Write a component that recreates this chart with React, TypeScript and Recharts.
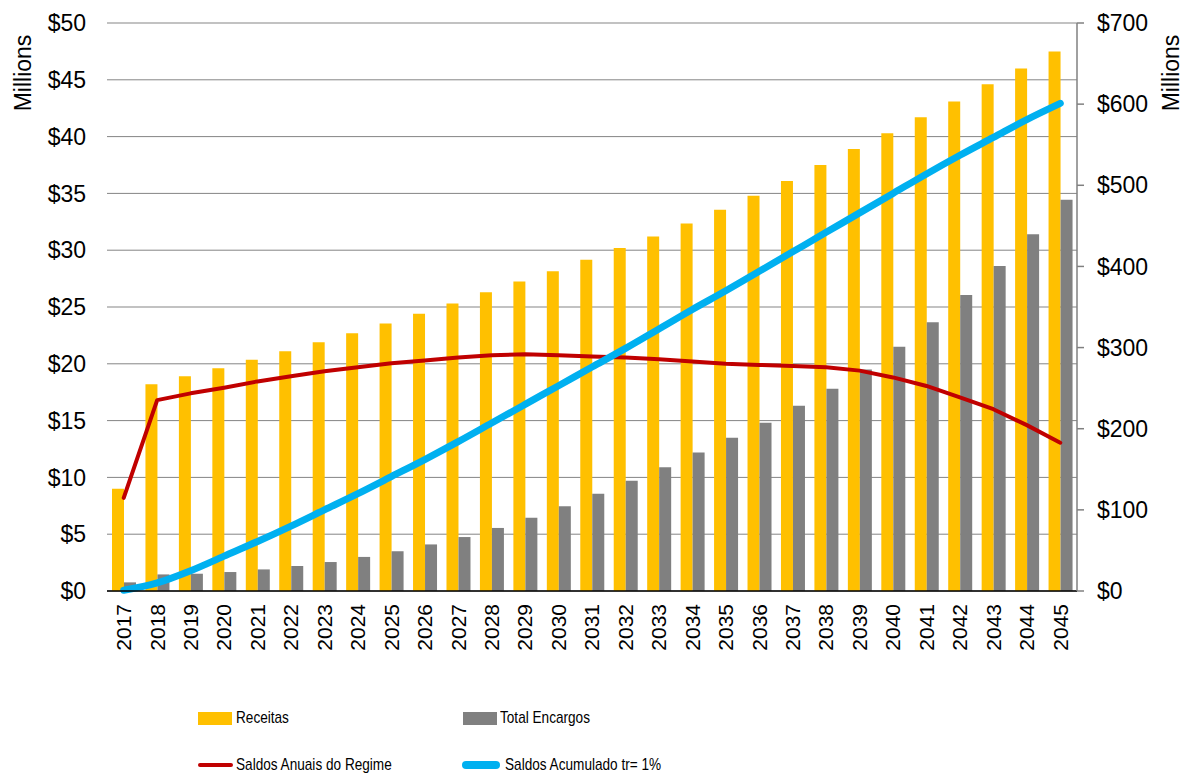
import {
  Bar,
  CartesianGrid,
  ComposedChart,
  Legend,
  Line,
  XAxis,
  YAxis,
} from "recharts";

const years = [
  "2017", "2018", "2019", "2020", "2021", "2022", "2023", "2024", "2025", "2026",
  "2027", "2028", "2029", "2030", "2031", "2032", "2033", "2034", "2035", "2036",
  "2037", "2038", "2039", "2040", "2041", "2042", "2043", "2044", "2045",
];

// $ millions, left axis
const receitas = [
  9.0, 18.2, 18.9, 19.6, 20.35, 21.1, 21.9, 22.7, 23.55, 24.4,
  25.3, 26.3, 27.25, 28.15, 29.15, 30.2, 31.2, 32.35, 33.55, 34.8,
  36.1, 37.5, 38.9, 40.3, 41.7, 43.1, 44.6, 46.0, 47.5,
];
const totalEncargos = [
  0.76, 1.46, 1.52, 1.67, 1.9, 2.2, 2.55, 3.0, 3.5, 4.1,
  4.75, 5.55, 6.45, 7.45, 8.55, 9.7, 10.9, 12.2, 13.5, 14.8,
  16.3, 17.8, 19.5, 21.5, 23.65, 26.05, 28.6, 31.4, 34.45,
];
const saldosAnuais = [
  8.2, 16.8, 17.4, 17.9, 18.45, 18.9, 19.35, 19.7, 20.05, 20.3,
  20.55, 20.75, 20.85, 20.75, 20.65, 20.55, 20.4, 20.2, 20.0, 19.9,
  19.8, 19.7, 19.4, 18.8, 18.05, 17.05, 16.0, 14.6, 13.05,
];
// $ millions, right axis
const saldosAcumulado = [
  1, 10, 25, 43, 61, 80, 100, 120, 141, 162,
  184, 207, 230, 253, 276, 299, 323, 347, 370, 394,
  418, 442, 466, 490, 514, 537, 559, 581, 601,
];

const leftTicks = [0, 5, 10, 15, 20, 25, 30, 35, 40, 45, 50];
const rightTicks = [0, 100, 200, 300, 400, 500, 600, 700];

const data = years.map((year, i) => ({
  year,
  receitas: receitas[i],
  encargos: totalEncargos[i],
  anuais: saldosAnuais[i],
  acumulado: saldosAcumulado[i],
}));

const FONT = "'Liberation Sans', Arial, sans-serif";

function YearTick(props: any) {
  const { x, y, payload } = props;
  const ty = y + 5;
  return (
    <text
      x={x}
      y={ty}
      transform={`rotate(-90 ${x} ${ty})`}
      textAnchor="end"
      dy="0.35em"
      fontSize={21}
      fontFamily={FONT}
      fill="#000"
    >
      {payload.value}
    </text>
  );
}

// legend text is narrow in the original, squeeze regular sans
function LegendText({ left, top, children }: { left: number; top: number; children: string }) {
  return (
    <div
      style={{
        position: "absolute",
        left,
        top,
        fontFamily: FONT,
        fontSize: 17,
        color: "#000",
        lineHeight: "20px",
        whiteSpace: "nowrap",
        transform: "scaleX(0.8)",
        transformOrigin: "left center",
      }}
    >
      {children}
    </div>
  );
}

function renderLegend() {
  return (
    <div style={{ position: "relative", width: 1185, height: 80 }}>
      <div style={{ position: "absolute", left: 198, top: 12, width: 34, height: 13, background: "#FFC000" }} />
      <LegendText left={236} top={8}>Receitas</LegendText>
      <div style={{ position: "absolute", left: 463, top: 12, width: 34, height: 13, background: "#808080" }} />
      <LegendText left={500} top={8}>Total Encargos</LegendText>
      <div style={{ position: "absolute", left: 198, top: 63, width: 35, height: 4, borderRadius: 2, background: "#C00000" }} />
      <LegendText left={236} top={55}>Saldos Anuais do Regime</LegendText>
      <div style={{ position: "absolute", left: 462, top: 61, width: 38, height: 8, borderRadius: 4, background: "#00B0F0" }} />
      <LegendText left={505} top={55}>Saldos Acumulado tr= 1%</LegendText>
    </div>
  );
}

function AxisTitle({ cx, cy }: { cx: number; cy: number }) {
  return (
    <div
      style={{
        position: "absolute",
        left: cx - 50,
        top: cy - 13,
        width: 100,
        height: 26,
        lineHeight: "26px",
        textAlign: "center",
        fontFamily: FONT,
        fontSize: 23,
        color: "#000",
        transform: "rotate(-90deg)",
      }}
    >
      Millions
    </div>
  );
}

export default function App() {
  return (
    <div style={{ position: "absolute", left: 0, top: 0, width: 1185, height: 775, background: "#fff" }}>
      <ComposedChart
        width={1185}
        height={775}
        data={data}
        margin={{ top: 23, right: 0, left: 0, bottom: 124 }}
        barGap={0}
        barSize={12}
      >
        <CartesianGrid
          yAxisId="left"
          vertical={false}
          stroke="#858585"
          strokeWidth={1}
        />
        <XAxis
          dataKey="year"
          height={60}
          tickLine={false}
          axisLine={{ stroke: "#000", strokeWidth: 1.5 }}
          tick={<YearTick />}
          interval={0}
        />
        <YAxis
          yAxisId="left"
          width={107}
          domain={[0, 50]}
          ticks={leftTicks}
          tickFormatter={(v: number) => `$${v}`}
          axisLine={false}
          tickLine={false}
          tickSize={6}
          tickMargin={15}
          tick={{ fontSize: 23, fill: "#000", fontFamily: FONT }}
        />
        <YAxis
          yAxisId="right"
          orientation="right"
          width={108}
          domain={[0, 700]}
          ticks={rightTicks}
          tickFormatter={(v: number) => `$${v}`}
          axisLine={{ stroke: "#808080", strokeWidth: 1.5 }}
          tickLine={{ stroke: "#808080", strokeWidth: 1.5 }}
          tickSize={7}
          tickMargin={13}
          tick={{ fontSize: 23, fill: "#000", fontFamily: FONT }}
        />
        <Legend
          layout="horizontal"
          verticalAlign="middle"
          align="center"
          content={renderLegend}
          wrapperStyle={{ left: 0, top: 700, width: 1185, height: 80 }}
        />
        <Bar
          yAxisId="left"
          dataKey="receitas"
          name="Receitas"
          fill="#FFC000"
          isAnimationActive={false}
        />
        <Bar
          yAxisId="left"
          dataKey="encargos"
          name="Total Encargos"
          fill="#808080"
          isAnimationActive={false}
        />
        <Line
          yAxisId="left"
          type="linear"
          dataKey="anuais"
          name="Saldos Anuais do Regime"
          stroke="#C00000"
          strokeWidth={4}
          strokeLinecap="round"
          strokeLinejoin="round"
          dot={false}
          activeDot={false}
          isAnimationActive={false}
        />
        <Line
          yAxisId="right"
          type="monotone"
          dataKey="acumulado"
          name="Saldos Acumulado tr= 1%"
          stroke="#00B0F0"
          strokeWidth={7}
          strokeLinecap="round"
          dot={false}
          activeDot={false}
          isAnimationActive={false}
        />
      </ComposedChart>
      <AxisTitle cx={23} cy={73} />
      <AxisTitle cx={1171} cy={73} />
    </div>
  );
}
